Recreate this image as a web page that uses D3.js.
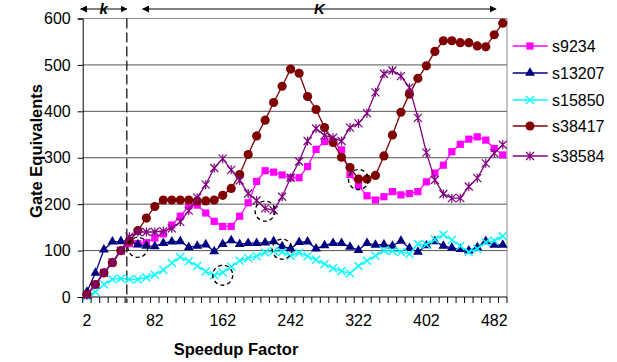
<!DOCTYPE html>
<html>
<head>
<meta charset="utf-8">
<script src="https://cdn.jsdelivr.net/npm/d3@7"></script>
<style>
  body { margin: 0; background: #fff; }
  text { font-family: "Liberation Sans", Arial, sans-serif; }
</style>
</head>
<body>
<svg id="chart" width="617" height="362"></svg>
<script>
// speedup factor categories
const categories = [2, 12, 22, 32, 42, 52, 62, 72, 82, 92, 102, 112, 122, 132, 142, 152, 162, 172, 182, 192,
  202, 212, 222, 232, 242, 252, 262, 272, 282, 292, 302, 312, 322, 332, 342, 352, 362, 372, 382, 392,
  402, 412, 422, 432, 442, 452, 462, 472, 482, 492];
const xLabels = [2, 82, 162, 242, 322, 402, 482];
const yTicks = [0, 100, 200, 300, 400, 500, 600];

const s9234 = [5, 27, 52, 74, 100, 115, 115, 117, 127, 136, 155, 174, 196, 198, 181, 163, 152, 152, 174, 203,
  249, 272, 269, 263, 257, 257, 281, 318, 335, 335, 317, 264, 240, 218, 209, 216, 227, 220, 223, 227,
  248, 267, 284, 313, 329, 340, 345, 338, 320, 306];
const s13207 = [11, 52, 102, 119, 120, 122, 113, 110, 109, 116, 119, 120, 107, 110, 113, 98, 114, 122, 114, 116,
  116, 117, 120, 109, 104, 118, 119, 104, 111, 116, 116, 108, 101, 116, 112, 113, 110, 121, 105, 97,
  111, 120, 110, 106, 103, 100, 107, 120, 112, 112];
const s15850 = [1, 11, 27, 38, 40, 38, 38, 42, 48, 58, 73, 86, 77, 67, 55, 47, 53, 65, 78, 84,
  88, 96, 99, 97, 89, 95, 88, 80, 71, 62, 56, 51, 67, 78, 89, 100, 99, 97, 93, 114,
  113, 124, 134, 123, 110, 97, 104, 118, 121, 131];
const s38417 = [6, 27, 52, 74, 100, 121, 143, 170, 195, 209, 209, 209, 209, 207, 207, 209, 219, 234, 264, 307,
  347, 381, 419, 454, 491, 482, 432, 404, 365, 333, 301, 279, 254, 254, 262, 304, 349, 398, 437, 471,
  498, 529, 552, 552, 548, 548, 541, 539, 565, 590];
const s38584 = [4, 27, 52, 75, 100, 130, 140, 140, 140, 142, 148, 162, 186, 214, 242, 278, 298, 274, 251, 223,
  208, 191, 187, 216, 257, 292, 336, 363, 348, 343, 336, 365, 374, 396, 441, 481, 488, 476, 451, 386,
  311, 252, 222, 213, 213, 238, 256, 288, 310, 328];

// dashed circles drawn on the chart (category, value)
const circledCat = [62, 162, 212, 232, 322];
const circledVal = [107, 47, 185, 103, 253];

const series = [
  { name: "s9234", values: s9234, color: "#ff00ff", marker: "square" },
  { name: "s13207", values: s13207, color: "#000080", marker: "triangle" },
  { name: "s15850", values: s15850, color: "#00ffff", marker: "x" },
  { name: "s38417", values: s38417, color: "#800000", marker: "circle" },
  { name: "s38584", values: s38584, color: "#800080", marker: "star" }
];

const svg = d3.select("#chart");
const plotLeft = 82.7, plotRight = 507, plotTop = 18.5, plotBottom = 297;

const x = d3.scaleBand().domain(categories).range([plotLeft, plotRight]).padding(0);
const y = d3.scaleLinear().domain([0, 600]).range([plotBottom, plotTop]);
const cx = c => x(c) + x.bandwidth() / 2;
// position in "category index" units, for the k / K annotations
const ix = i => plotLeft + (i + 0.5) * x.bandwidth();

// grid lines
svg.append("g").selectAll("line")
  .data(yTicks.filter(d => d > 0))
  .join("line")
  .attr("x1", plotLeft).attr("x2", plotRight)
  .attr("y1", d => y(d)).attr("y2", d => y(d))
  .attr("stroke", d => d === 600 ? "#8c8c8c" : "#555")
  .attr("stroke-width", 1);

// right border
svg.append("line")
  .attr("x1", plotRight).attr("x2", plotRight).attr("y1", plotTop).attr("y2", plotBottom)
  .attr("stroke", "#8c8c8c");

// y axis
const yAxis = svg.append("g")
  .attr("transform", `translate(${plotLeft},0)`)
  .call(d3.axisLeft(y).tickValues(yTicks).tickSize(5).tickPadding(7));
yAxis.select(".domain").attr("stroke", "#000");
yAxis.selectAll("text").attr("font-size", 16).attr("fill", "#000")
  .style("font-family", '"Liberation Sans", Arial, sans-serif');

// x axis labels
const xAxis = svg.append("g")
  .attr("transform", `translate(0,${plotBottom})`)
  .call(d3.axisBottom(x).tickValues(xLabels).tickSize(0).tickPadding(18));
xAxis.select(".domain").remove();
xAxis.selectAll("text").attr("font-size", 16).attr("fill", "#000")
  .style("font-family", '"Liberation Sans", Arial, sans-serif');

// x minor ticks at category boundaries
const edges = categories.map(c => x(c)).concat([plotRight]);
svg.append("g").selectAll("line")
  .data(edges)
  .join("line")
  .attr("x1", d => d).attr("x2", d => d)
  .attr("y1", plotBottom).attr("y2", plotBottom + 6)
  .attr("stroke", "#000");
svg.append("line")
  .attr("x1", plotLeft).attr("x2", plotRight).attr("y1", plotBottom).attr("y2", plotBottom)
  .attr("stroke", "#000");

// axis titles
svg.append("text")
  .attr("x", 236).attr("y", 355)
  .attr("text-anchor", "middle")
  .attr("font-size", 16.5).attr("font-weight", "bold")
  .text("Speedup Factor");
svg.append("text")
  .attr("transform", "translate(42,151) rotate(-90)")
  .attr("text-anchor", "middle")
  .attr("font-size", 16.5).attr("font-weight", "bold")
  .text("Gate Equivalents");

// k boundary dashed line
const kEdge = 4.7;
svg.append("line")
  .attr("x1", ix(kEdge)).attr("x2", ix(kEdge))
  .attr("y1", plotTop).attr("y2", plotBottom + 6)
  .attr("stroke", "#000").attr("stroke-width", 1.2)
  .attr("stroke-dasharray", "10,4");

// arrows
const defs = svg.append("defs");
defs.append("marker")
  .attr("id", "arrow")
  .attr("viewBox", "0 0 10 10")
  .attr("refX", 9).attr("refY", 5)
  .attr("markerWidth", 7).attr("markerHeight", 7)
  .attr("markerUnits", "userSpaceOnUse")
  .attr("orient", "auto-start-reverse")
  .append("path").attr("d", "M0,0L10,5L0,10Z").attr("fill", "#000");

const arrows = [
  { from: -0.74, to: kEdge, label: "k" },
  { from: 6.57, to: 48.2, label: "K" }
];
arrows.forEach(a => {
  svg.append("line")
    .attr("x1", ix(a.from)).attr("x2", ix(a.to))
    .attr("y1", 9).attr("y2", 9)
    .attr("stroke", "#000").attr("stroke-width", 1)
    .attr("marker-start", "url(#arrow)").attr("marker-end", "url(#arrow)");
  svg.append("text")
    .attr("x", ix((a.from + a.to) / 2)).attr("y", 14)
    .attr("text-anchor", "middle")
    .attr("font-size", 15).attr("font-weight", "bold").attr("font-style", "italic")
    .text(a.label);
});

// marker drawing
function drawMarker(g, type, color) {
  if (type === "square") {
    g.append("path").attr("d", d3.symbol(d3.symbolSquare, 52)()).attr("fill", color);
  } else if (type === "triangle") {
    g.append("path").attr("d", d3.symbol(d3.symbolTriangle, 42)()).attr("fill", color);
  } else if (type === "circle") {
    g.append("path").attr("d", d3.symbol(d3.symbolCircle, 66)()).attr("fill", color);
  } else if (type === "x") {
    g.append("path").attr("d", "M-4,-4L4,4M-4,4L4,-4")
      .attr("stroke", color).attr("stroke-width", 1.4).attr("fill", "none");
  } else if (type === "star") {
    g.append("path").attr("d", "M-4,-4L4,4M-4,4L4,-4M0,-4.5L0,4.5")
      .attr("stroke", color).attr("stroke-width", 1.2).attr("fill", "none");
  }
}

const line = d3.line()
  .x((d, i) => cx(categories[i]))
  .y(d => y(d));

series.forEach(s => {
  const g = svg.append("g");
  g.append("path")
    .attr("d", line(s.values))
    .attr("fill", "none")
    .attr("stroke", s.color)
    .attr("stroke-width", 1.3);
  g.selectAll("g.pt")
    .data(s.values)
    .join("g")
    .attr("class", "pt")
    .attr("transform", (d, i) => `translate(${cx(categories[i])},${y(d)})`)
    .each(function () { drawMarker(d3.select(this), s.marker, s.color); });
});

// dashed circles
svg.append("g").selectAll("circle")
  .data(circledCat)
  .join("circle")
  .attr("cx", d => cx(d))
  .attr("cy", (d, i) => y(circledVal[i]))
  .attr("r", 10)
  .attr("fill", "none")
  .attr("stroke", "#000")
  .attr("stroke-width", 1.4)
  .attr("stroke-dasharray", "4,3");

// legend
const legendY = [46, 73, 100, 126, 156];
const legend = svg.append("g");
series.forEach((s, i) => {
  const g = legend.append("g").attr("transform", `translate(0,${legendY[i]})`);
  g.append("line")
    .attr("x1", 512.7).attr("x2", 547.7)
    .attr("stroke", s.color).attr("stroke-width", 1.5);
  const m = g.append("g").attr("transform", "translate(530,0)");
  drawMarker(m, s.marker, s.color);
  g.append("text")
    .attr("x", 552).attr("y", 6)
    .attr("font-size", 16)
    .text(s.name);
});
</script>
</body>
</html>
